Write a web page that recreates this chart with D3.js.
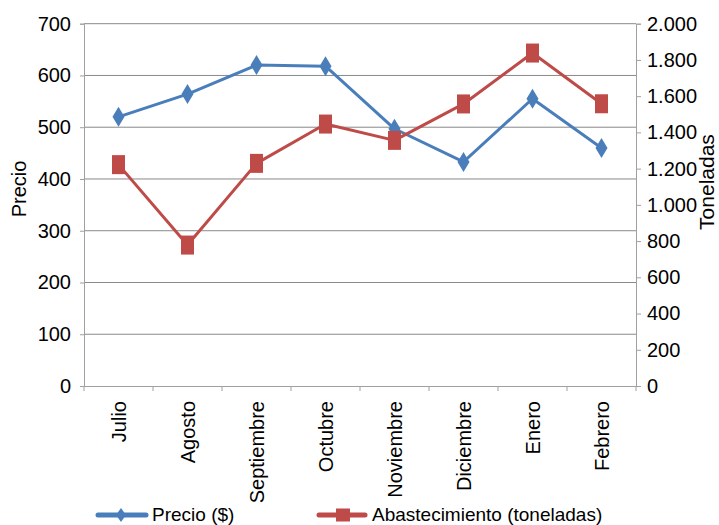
<!DOCTYPE html>
<html>
<head>
<meta charset="utf-8">
<script src="https://cdn.jsdelivr.net/npm/d3@7"></script>
<style>
  body { margin: 0; background: #fff; }
  svg text { font-family: "Liberation Sans", Arial, sans-serif; fill: #000; }
</style>
</head>
<body>
<div class="chart"></div>
<script>
const months = ["Julio", "Agosto", "Septiembre", "Octubre", "Noviembre", "Diciembre", "Enero", "Febrero"];
const precio = [520, 564, 620, 618, 497, 433, 555, 460];
const abastecimiento = [1222, 778, 1229, 1446, 1356, 1557, 1838, 1558];
const leftTicks = [0, 100, 200, 300, 400, 500, 600, 700];
const rightTicks = [0, 200, 400, 600, 800, 1000, 1200, 1400, 1600, 1800, 2000];

var margin = {top: 23.7, right: 83, bottom: 139, left: 84};
var width = 719 - margin.left - margin.right,
    height = 525 - margin.top - margin.bottom;

const blue = "#4a7ebb", red = "#be4b48";
const locale = d3.formatLocale({decimal: ",", thousands: ".", grouping: [3], currency: ["$", ""]});
const fmt = locale.format(",d");

const root = d3.select(".chart").append("svg")
    .attr("width", 719)
    .attr("height", 525);
const svg = root.append("g")
    .attr("transform", "translate(" + margin.left + "," + margin.top + ")");

const xScale = d3.scaleBand().domain(months).range([0, width]);
const yLeft = d3.scaleLinear().domain([0, 700]).range([height, 0]);
const yRight = d3.scaleLinear().domain([0, 2000]).range([height, 0]);

// gridlines
svg.append("g").selectAll("line")
    .data(leftTicks.filter(d => d > 0))
    .join("line")
    .attr("x1", 0).attr("x2", width)
    .attr("y1", d => yLeft(d)).attr("y2", d => yLeft(d))
    .attr("stroke", "#898989").attr("stroke-width", 1);

// left axis
const yAxisL = svg.append("g")
    .call(d3.axisLeft(yLeft).tickValues(leftTicks).tickSize(4).tickPadding(9));
// right axis
const yAxisR = svg.append("g")
    .attr("transform", `translate(${width},0)`)
    .call(d3.axisRight(yRight).tickValues(rightTicks).tickSize(5).tickPadding(6).tickFormat(fmt));
// x axis
const xAxis = svg.append("g")
    .attr("transform", `translate(0,${height})`)
    .call(d3.axisBottom(xScale).tickSize(0).tickPadding(0));

[yAxisL, yAxisR].forEach(g => {
    g.select(".domain").attr("stroke", "#a0a0a0");
    g.selectAll(".tick line").attr("stroke", "#a0a0a0");
    g.selectAll("text").style("font-size", "20px").style("font-family", "Liberation Sans, Arial, sans-serif");
});
xAxis.select(".domain").attr("stroke", "#a0a0a0");
xAxis.selectAll("text")
    .style("font-size", "20px")
    .style("font-family", "Liberation Sans, Arial, sans-serif")
    .style("text-anchor", "end")
    .attr("transform", "rotate(-90)")
    .attr("x", -15)
    .attr("y", 0)
    .attr("dy", "0.35em");

// category boundary ticks
svg.append("g").selectAll("line")
    .data(months.concat(["_end"]))
    .join("line")
    .attr("x1", (d, i) => i * xScale.step())
    .attr("x2", (d, i) => i * xScale.step())
    .attr("y1", height).attr("y2", height + 5)
    .attr("stroke", "#a0a0a0");

const cx = d => xScale(d) + xScale.bandwidth() / 2;

// lines
svg.append("path")
    .datum(precio)
    .attr("fill", "none")
    .attr("stroke", blue)
    .attr("stroke-width", 3)
    .attr("stroke-linejoin", "round")
    .attr("d", d3.line().x((d, i) => cx(months[i])).y(d => yLeft(d)));

svg.append("path")
    .datum(abastecimiento)
    .attr("fill", "none")
    .attr("stroke", red)
    .attr("stroke-width", 3)
    .attr("stroke-linejoin", "round")
    .attr("d", d3.line().x((d, i) => cx(months[i])).y(d => yRight(d)));

function diamond(w, h) {
    return `M0,${-h / 2}L${w / 2},0L0,${h / 2}L${-w / 2},0Z`;
}

svg.append("g").selectAll("path")
    .data(precio)
    .join("path")
    .attr("transform", (d, i) => `translate(${cx(months[i])},${yLeft(d)})`)
    .attr("d", diamond(12, 20))
    .attr("fill", blue);

svg.append("g").selectAll("rect")
    .data(abastecimiento)
    .join("rect")
    .attr("x", (d, i) => cx(months[i]) - 6.5)
    .attr("y", d => yRight(d) - 9.5)
    .attr("width", 13).attr("height", 19)
    .attr("fill", red);

// axis titles
root.append("text")
    .attr("transform", "translate(26,189) rotate(-90)")
    .attr("text-anchor", "middle")
    .style("font-size", "20px")
    .text("Precio");

root.append("text")
    .attr("transform", "translate(714,182) rotate(-90)")
    .attr("text-anchor", "middle")
    .style("font-size", "21px")
    .text("Toneladas");

// legend
const legend = root.append("g");
legend.append("line")
    .attr("x1", 98).attr("x2", 146).attr("y1", 515).attr("y2", 515)
    .attr("stroke", blue).attr("stroke-width", 5).attr("stroke-linecap", "round");
legend.append("path")
    .attr("transform", "translate(121,515)")
    .attr("d", diamond(10, 14))
    .attr("fill", blue);
legend.append("text")
    .attr("x", 152).attr("y", 521)
    .style("font-size", "19px")
    .text("Precio ($)");

legend.append("line")
    .attr("x1", 319).attr("x2", 365).attr("y1", 515).attr("y2", 515)
    .attr("stroke", red).attr("stroke-width", 5).attr("stroke-linecap", "round");
legend.append("rect")
    .attr("x", 336).attr("y", 508.5).attr("width", 14).attr("height", 13)
    .attr("fill", red);
legend.append("text")
    .attr("x", 372).attr("y", 521)
    .style("font-size", "19px")
    .text("Abastecimiento (toneladas)");
</script>
</body>
</html>
